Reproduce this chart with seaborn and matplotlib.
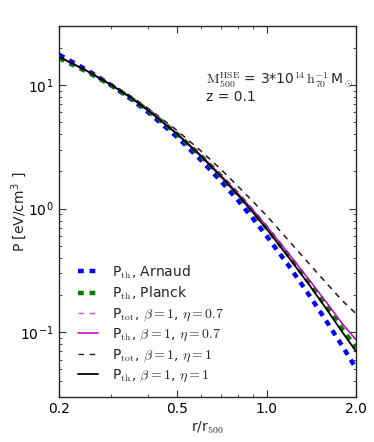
import numpy as np
import pandas as pd
import matplotlib
matplotlib.use("Agg")
import matplotlib.pyplot as plt
from matplotlib.ticker import NullFormatter
import seaborn as sns

# radii in units of r500
r = [0.2, 0.25, 0.3, 0.35, 0.4, 0.5, 0.6, 0.7, 0.8, 0.9, 1.0, 1.2, 1.4, 1.6, 1.8, 2.0]

# pressure profiles in eV/cm^3
p_arnaud = [17.6, 13.1, 9.95, 7.67, 5.99, 3.79, 2.48, 1.68, 1.17, 0.83, 0.60, 0.333, 0.195, 0.120, 0.077, 0.051]
p_planck = [16.5, 12.7, 9.9, 7.8, 6.2, 4.01, 2.68, 1.85, 1.31, 0.945, 0.70, 0.403, 0.246, 0.158, 0.106, 0.075]
p_tot_07 = [16.9, 13.03, 10.2, 8.09, 6.45, 4.28, 2.94, 2.09, 1.52, 1.14, 0.877, 0.536, 0.353, 0.247, 0.181, 0.143]
p_th_07 = [16.9, 12.9, 10.0, 7.87, 6.23, 4.04, 2.71, 1.87, 1.33, 0.97, 0.72, 0.417, 0.26, 0.171, 0.117, 0.087]
p_tot_1 = [16.9, 13.03, 10.2, 8.09, 6.45, 4.28, 2.94, 2.09, 1.52, 1.14, 0.877, 0.534, 0.351, 0.245, 0.179, 0.141]
p_th_1 = [16.9, 12.9, 10.0, 7.85, 6.2, 4.0, 2.67, 1.83, 1.29, 0.93, 0.685, 0.39, 0.237, 0.151, 0.100, 0.070]

labels = [r"P$_{\rm th}$, Arnaud",
          r"P$_{\rm th}$, Planck",
          r"P$_{\rm tot}$, $\beta=1$, $\eta=0.7$",
          r"P$_{\rm th}$, $\beta=1$, $\eta=0.7$",
          r"P$_{\rm tot}$, $\beta=1$, $\eta=1$",
          r"P$_{\rm th}$, $\beta=1$, $\eta=1$"]
series = [p_arnaud, p_planck, p_tot_07, p_th_07, p_tot_1, p_th_1]
colors = ["#0000ff", "#007f00", "#ee44ee", "#bf00bf", "#222222", "#000000"]
widths = [3.2, 3.2, 1.0, 1.1, 1.0, 1.3]
styles = [(0, (1.3, 1.3)), (0, (1.3, 1.3)), (0, (4, 4)), "-", (0, (4, 4)), "-"]

sns.set_style("ticks")
plt.rcParams["font.family"] = ["DejaVu Sans"]
plt.rcParams["mathtext.fontset"] = "cm"
plt.rcParams["font.size"] = 10
plt.rcParams["axes.linewidth"] = 1.0

fig = plt.figure(figsize=(3.74, 4.42), dpi=100)
ax = fig.add_axes([0.158, 0.102, 0.794, 0.839])

for vals, lab, c, w, s in zip(series, labels, colors, widths, styles):
    df = pd.DataFrame({"r": r, "P": vals})
    sns.lineplot(data=df, x="r", y="P", ax=ax, color=c, lw=w, linestyle=s, label=lab)

ax.set_xscale("log")
ax.set_yscale("log")
ax.set_xlim(0.2, 2.0)
ax.set_ylim(0.03, 30)
ax.set_xticks([0.2, 0.5, 1.0, 2.0])
ax.set_xticklabels(["0.2", "0.5", "1.0", "2.0"])
ax.xaxis.set_minor_formatter(NullFormatter())
ax.set_yticks([0.1, 1, 10])
ax.set_yticklabels([r"10$^{\mathregular{-1}}$", r"10$^{\mathregular{0}}$", r"10$^{\mathregular{1}}$"])
ax.yaxis.set_minor_formatter(NullFormatter())
ax.tick_params(which="both", direction="in", top=True, right=True, colors="#333333", labelcolor="black")
ax.tick_params(which="major", length=5, width=0.8, pad=4)
ax.tick_params(which="minor", length=2.5, width=0.6)
ax.set_xlabel(r"r/r$_{\rm 500}$", labelpad=2)
ax.set_ylabel(r"P [eV/cm$^{\mathregular{3}}$ ]")
ax.yaxis.set_label_coords(-0.102, 0.5)

ax.text(0.495, 0.855, r"$\rm M_{500}^{HSE}$ = 3*10$^{\rm 14}\,\rm h_{70}^{-1}\,$M$_\odot$",
        transform=ax.transAxes, va="center", ha="left", fontsize=10)
ax.text(0.495, 0.808, "z = 0.1", transform=ax.transAxes, va="center", ha="left", fontsize=10)

ax.legend(loc="lower left", frameon=False, handlelength=1.5, handletextpad=1.0,
          labelspacing=0.3, bbox_to_anchor=(0.02, 0.0), fontsize=10)

fig.savefig("out.png", dpi=100)
